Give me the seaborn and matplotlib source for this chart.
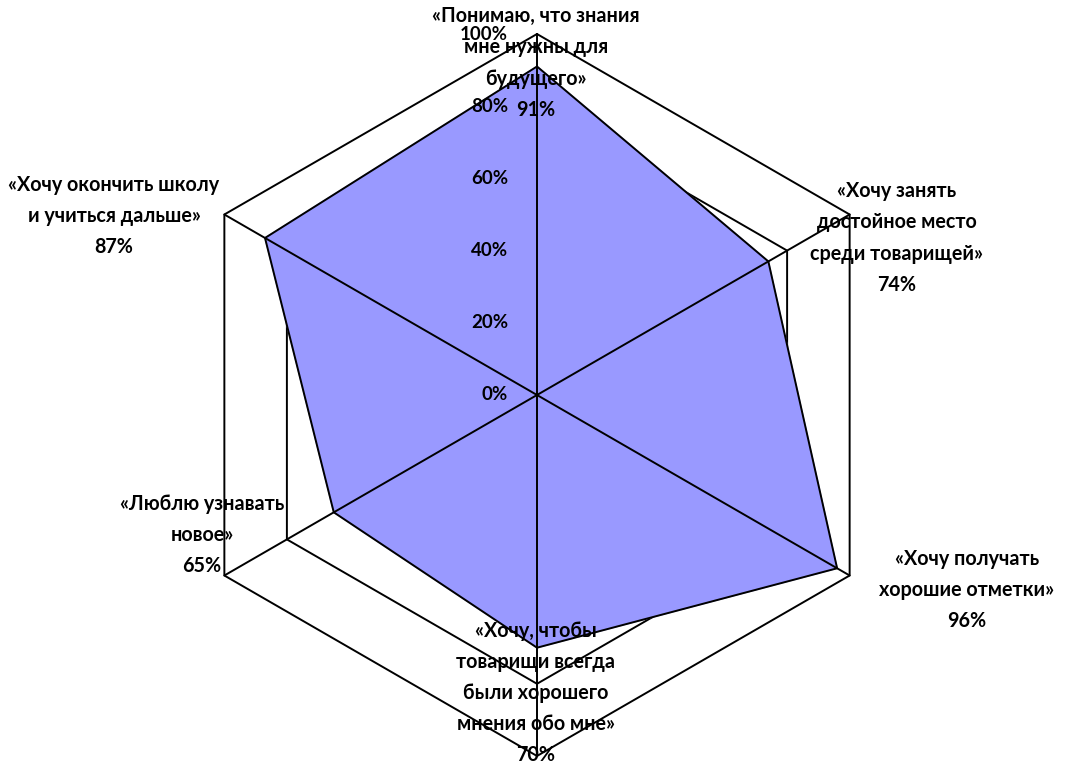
# Radar chart - motives for learning
import numpy as np
import pandas as pd
import matplotlib
matplotlib.use("Agg")
import matplotlib.pyplot as plt
import matplotlib.transforms as mtransforms
import seaborn as sns

# Data
labels = ["«Понимаю, что знания\nмне нужны для\nбудущего»",
          "«Хочу занять\nдостойное место\nсреди товарищей»",
          "«Хочу получать\nхорошие отметки»",
          "«Хочу, чтобы\nтоварищи всегда\nбыли хорошего\nмнения обо мне»",
          "«Люблю узнавать\nновое»",
          "«Хочу окончить школу\nи учиться дальше»"]
values = [91, 74, 96, 70, 65, 87]
r_ticks = [0, 20, 40, 60, 80, 100]

# label centres in pixels of the 1066x761 picture
label_pos = [(536, 63), (897, 238), (967, 590), (536, 693), (202, 535), (114, 216)]

sns.set_theme(style="white")
plt.rcParams['font.family'] = ['Lato', 'DejaVu Sans']

W, H = 1066, 761
fig = plt.figure(figsize=(W / 100, H / 100), dpi=100)
cx, cy, rad = 537, 366, 361
ax = fig.add_axes([(cx - rad) / W, (cy - rad) / H, 2 * rad / W, 2 * rad / H], projection='polar')
ax.set_theta_zero_location('N')
ax.set_theta_direction(-1)

n = len(values)
theta = np.arange(n) * 2 * np.pi / n
theta_c = np.append(theta, 2 * np.pi)
vals_c = np.append(values, values[0]) / 100

# hexagon grid (under the fill)
for t in r_ticks[1:]:
    ax.plot(theta_c, [t / 100] * (n + 1), color='black', lw=1.4, zorder=1, clip_on=False)

# filled series
ax.fill(theta_c, vals_c, color='#9999FF', zorder=2)

# spokes over the fill
for th in theta:
    ax.plot([th, th], [0, 1], color='black', lw=1.4, zorder=3, clip_on=False)

df = pd.DataFrame({'theta': theta_c, 'value': vals_c})
sns.lineplot(data=df, x='theta', y='value', sort=False, estimator=None, ax=ax,
             color='black', lw=1.4, zorder=4)

ax.set_ylim(0, 1)
ax.grid(False)
ax.set_xticks([])
ax.set_yticks([])
ax.set_xlabel('')
ax.set_ylabel('')
ax.spines['polar'].set_visible(False)
ax.patch.set_alpha(0)

# radial tick labels left of the vertical spoke
trans = mtransforms.offset_copy(ax.transData, fig=fig, x=-29, y=0, units='dots')
for t in r_ticks:
    ax.text(0, t / 100, f"{t}%", transform=trans, ha='right', va='center',
            fontsize=13.5, fontweight='bold', color='black', zorder=5)

# category labels
for lab, v, (px, py) in zip(labels, values, label_pos):
    fig.text(px / W, 1 - py / H, f"{lab}\n{v}%", ha='center', va='center',
             fontsize=14.2, fontweight='bold', color='black', linespacing=1.7, zorder=6)

fig.savefig("out.png", dpi=100)
